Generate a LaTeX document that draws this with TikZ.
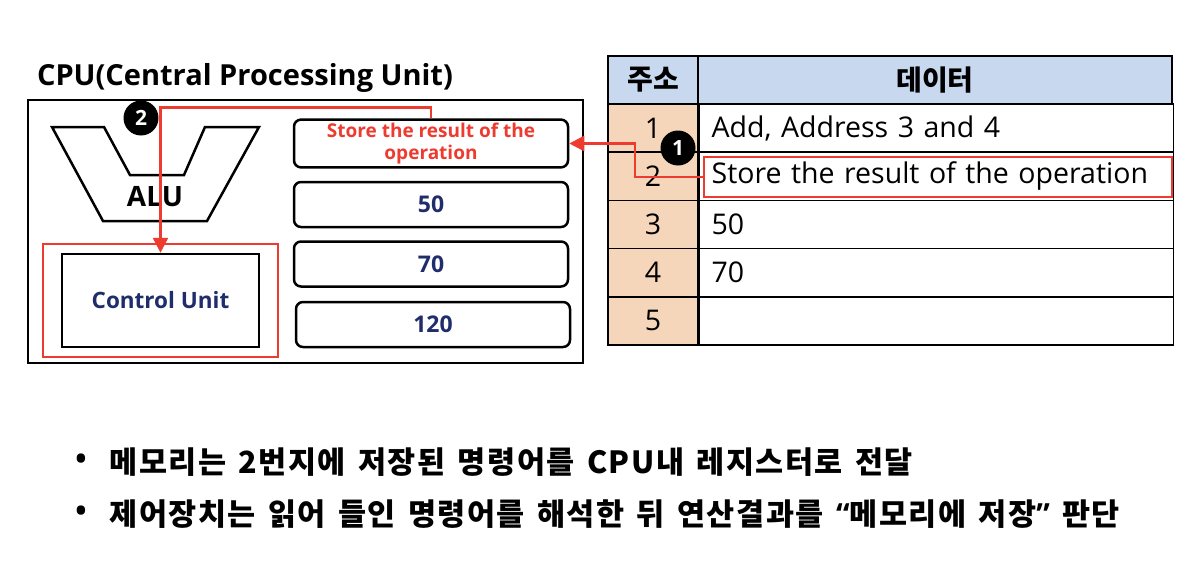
\documentclass[tikz,border=0pt]{standalone}
\usepackage{fontspec}
\setmainfont{Open Sans}
\newfontfamily\kr{Noto Sans CJK KR}
\newfontfamily\krwide{Noto Sans CJK KR}[LetterSpace=5,WordSpace=1.45]
\newfontfamily\latin{Open Sans}
\usetikzlibrary{arrows.meta,positioning}

\definecolor{markred}{HTML}{EE3B2F}
\definecolor{navy}{HTML}{1F2D6B}
\definecolor{headblue}{HTML}{C8D8EF}
\definecolor{peach}{HTML}{F6D6BA}

\begin{document}
\begin{tikzpicture}[x=1pt,y=-1pt,
  reg/.style={draw, line width=2.5pt, rounded corners=7pt, minimum width=274pt,
    minimum height=45pt, font=\bfseries\fontsize{23}{23}\selectfont, text=navy},
  addrcell/.style={draw, line width=1.6pt, fill=peach, minimum width=90pt,
    minimum height=48.2pt, font=\fontsize{28.5}{28.5}\selectfont},
  datacell/.style={draw, line width=1.6pt, text width=450pt, inner xsep=12pt,
    align=left, minimum height=48.2pt, font=\fontsize{28.5}{28.5}\selectfont},
  headcell/.style={draw, line width=1.6pt, fill=headblue, minimum height=48pt,
    font=\kr\bfseries\fontsize{28}{28}\selectfont},
  redline/.style={draw=markred, line width=2.5pt},
  redarrow/.style={redline, -{Triangle[length=15pt,width=15pt]}},
  badge/.style={circle, fill=black, minimum size=35pt, inner sep=0pt,
    text=white, font=\bfseries\fontsize{21}{21}\selectfont},
  dotmark/.style={font=\bfseries\fontsize{30}{30}\selectfont},
  bullettext/.style={anchor=west, font=\krwide\bfseries\fontsize{30.5}{30.5}\selectfont}]

\useasboundingbox (0,0) rectangle (1204,586);

% CPU
\node[font=\bfseries\fontsize{29}{29}\selectfont] (cputitle) at (245,78) {CPU(Central Processing Unit)};
\node[draw, line width=2pt, minimum width=555pt, minimum height=263pt] (cpu) at (305.5,231.5) {};

% ALU
\draw[line width=2.5pt] (52,127) -- (104,127) -- (130,175) -- (184,175) -- (205,127)
  -- (259,127) -- (207,221) -- (103,221) -- cycle;
\node[font=\bfseries\fontsize{28}{28}\selectfont] (alu) at (155,197) {ALU};

% control unit
\node[draw=markred, line width=2.5pt, minimum width=235pt, minimum height=113pt] (cuframe) at (160.5,300.5) {};
\node[draw, line width=2.5pt, minimum width=197pt, minimum height=93pt, text=navy,
  font=\bfseries\fontsize{22.5}{22.5}\selectfont] (cu) at (160.5,300.5) {Control Unit};

% registers
\node[reg, text=markred, font=\bfseries\fontsize{19}{22}\selectfont, align=center] (reg1) at (431,143.5)
  {Store the result of the\\operation};
\node[reg] (reg2) at (431,204.5) {50};
\node[reg] (reg3) at (431,264) {70};
\node[reg] (reg4) at (433,324.5) {120};

% memory table
\node[headcell, minimum width=90pt] (ahead) at (653,80) {주소};
\node[headcell, minimum width=474pt] (dhead) at (935,80) {데이터};
\foreach \i/\txt in {1/{Add, Address 3 and 4},2/{Store the result of the operation},3/50,4/70,5/{}} {
  \node[addrcell] (a\i) at (653,{104+48.2*(\i-0.5)}) {\i};
  \node[datacell, right=0pt of a\i] (d\i) {\txt};
}
\node[draw=markred, line width=2.5pt, minimum width=468pt, minimum height=40pt] (hl) at (938,177) {};

% connectors
\draw[redarrow] (hl.west) -- ++(-68,0) |- (reg1.east);
\draw[redarrow] (reg1.north) -- ++(0,-11) -| (cu.north);

% step badges
\node[badge] (b1) at (678,148) {1};
\node[badge] (b2) at (141,118) {2};

% notes
\node[dotmark] (dot1) at (81,462) {•};
\node[bullettext] (note1) at (106,462) {메모리는 2번지에 저장된 명령어를 CPU내 레지스터로 전달};
\node[dotmark] (dot2) at (81,514) {•};
\node[bullettext] (note2) at (106,514) {제어장치는 읽어 들인 명령어를 해석한 뒤 연산결과를 {\latin “}메모리에 저장{\latin ”} 판단};

\end{tikzpicture}
\end{document}
